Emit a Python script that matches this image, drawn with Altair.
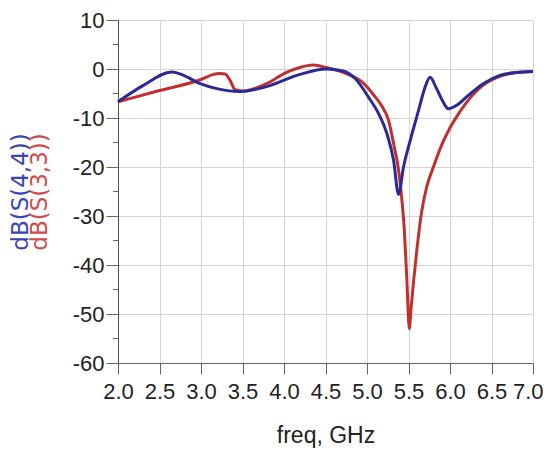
import altair as alt
import pandas as pd

# ---- data ----
freq_s44 = [2.0, 2.3, 2.65, 2.79, 2.99, 3.19, 3.47, 3.79, 4.19, 4.51, 4.71, 4.86,
            5.02, 5.14, 5.24, 5.32, 5.38, 5.44, 5.53, 5.62, 5.70, 5.76, 5.83, 5.91,
            5.98, 6.08, 6.2, 6.4, 6.6, 6.8, 7.0]
s44 = [-6.7, -3.4, -0.6, -1.3, -3.0, -4.0, -4.6, -3.6, -1.1, 0.0, -0.4, -2.0,
       -5.8, -9.1, -13.2, -18.6, -25.6, -20.0, -14.0, -8.5, -3.7, -1.7, -3.7, -6.5,
       -8.1, -7.4, -5.7, -3.0, -1.3, -0.7, -0.5]

freq_s33 = [2.0, 2.5, 2.99, 3.15, 3.22, 3.29, 3.35, 3.41, 3.50, 3.79, 4.03, 4.19,
            4.35, 4.51, 4.71, 4.95, 5.08, 5.18, 5.26, 5.32, 5.38, 5.41, 5.45,
            5.48, 5.51, 5.53, 5.56, 5.60, 5.66, 5.72, 5.80, 5.90, 6.0, 6.1, 6.2,
            6.4, 6.6, 6.8, 7.0]
s33 = [-6.7, -4.4, -2.2, -1.1, -0.9, -1.0, -2.3, -4.2, -4.5, -3.0, -0.7, 0.3,
       0.8, 0.3, -0.7, -2.8, -5.3, -7.6, -10.5, -15.2, -20.6, -25.0, -33.0,
       -43.0, -53.0, -49.0, -43.5, -37.0, -29.0, -24.0, -20.0, -15.5, -12.0,
       -9.2, -6.8, -3.3, -1.5, -0.7, -0.5]

x_ticks = [2.0, 2.5, 3.0, 3.5, 4.0, 4.5, 5.0, 5.5, 6.0, 6.5, 7.0]
y_ticks = [-60, -50, -40, -30, -20, -10, 0, 10]
y_minor = [-55, -45, -35, -25, -15, -5, 5]

title_s44 = "dB(S(4,4))"
title_s33 = "dB(S(3,3))"
x_title = "freq, GHz"

BLUE = "#2a2a96"
RED = "#c0302e"

df44 = pd.DataFrame({"freq": freq_s44, "db": s44})
df33 = pd.DataFrame({"freq": freq_s33, "db": s33})

W, H = 415, 343

xscale = alt.Scale(domain=[2, 7], nice=False, zero=False)
yscale = alt.Scale(domain=[-60, 10], nice=False, zero=False)

xaxis = alt.Axis(
    values=x_ticks, labelExpr="format(datum.value, '.1f')", title=x_title,
    grid=True, gridColor="#d4d4d4", gridWidth=1,
    tickSize=11, tickColor="#666", domainColor="#666",
    labelFont="Liberation Sans", labelFontSize=22, labelColor="#222",
    labelPadding=7, labelFlush=False, labelOverlap=False, labelBound=False,
    labelAlign={"condition": {"test": "datum.value >= 6.99", "value": "right"}, "value": "center"},
    labelOffset={"condition": {"test": "datum.value >= 6.99", "value": 10}, "value": 0},
    titleFont="Liberation Sans", titleFontSize=23, titleFontWeight="normal",
    titleColor="#222", titleY=79, titleBaseline="alphabetic",
)
yaxis = alt.Axis(
    values=y_ticks, labelExpr="'' + datum.value", title=None,
    grid=True, gridColor="#d4d4d4", gridWidth=1,
    tickSize=12, tickColor="#666", domainColor="#555",
    labelFont="Liberation Sans", labelFontSize=22, labelColor="#222",
    labelPadding=2, labelFlush=False, labelOverlap=False,
)

red = alt.Chart(df33).mark_line(color=RED, strokeWidth=3, interpolate="monotone").encode(
    x=alt.X("freq:Q", scale=xscale, axis=xaxis),
    y=alt.Y("db:Q", scale=yscale, axis=yaxis),
)
blue = alt.Chart(df44).mark_line(color=BLUE, strokeWidth=3, interpolate="monotone").encode(
    x=alt.X("freq:Q", scale=xscale),
    y=alt.Y("db:Q", scale=yscale),
)
minor = alt.Chart(pd.DataFrame({"v": y_minor})).mark_rule(color="#666", strokeWidth=1).encode(
    x=alt.value(-5), x2=alt.value(0),
    y=alt.Y("v:Q", scale=yscale),
)
t44 = alt.Chart(pd.DataFrame({"t": [title_s44]})).mark_text(
    angle=270, font="DejaVu Sans", fontSize=23, color="#3a44b8", align="center", baseline="middle"
).encode(x=alt.value(-97), y=alt.value(172), text="t:N")
t33 = alt.Chart(pd.DataFrame({"t": [title_s33]})).mark_text(
    angle=270, font="DejaVu Sans", fontSize=23, color="#d24a4a", align="center", baseline="middle"
).encode(x=alt.value(-78), y=alt.value(172), text="t:N")

chart = alt.layer(red, blue, minor, t44, t33).properties(
    width=W, height=H,
    autosize=alt.AutoSizeParams(type="none"),
    padding={"left": 110, "top": 12, "right": 11, "bottom": 86},
).configure_view(stroke="#777", strokeWidth=1).configure(background="white")

chart.save("out.html", embed_options={"renderer": "svg", "actions": False})
